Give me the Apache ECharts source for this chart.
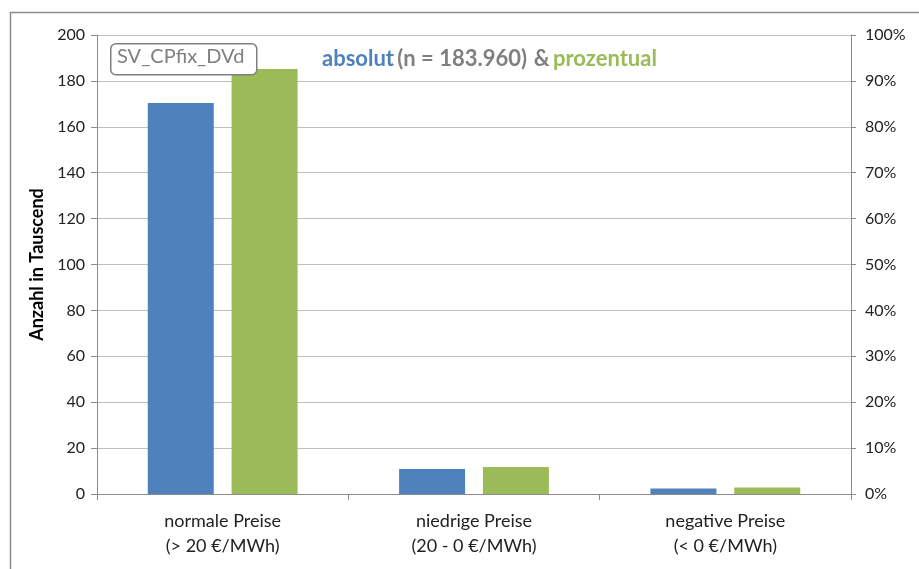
<!DOCTYPE html>
<html><head><meta charset="utf-8">
<script src="https://cdn.jsdelivr.net/npm/echarts@6/dist/echarts.min.js"></script>
<style>html,body{margin:0;padding:0;background:#fff}#c{width:919px;height:569px}</style>
</head><body><div id="c"></div>
<script>
const categories = ['normale Preise\n(> 20 €/MWh)', 'niedrige Preise\n(20 - 0 €/MWh)', 'negative Preise\n(< 0 €/MWh)'];
const absolutValues = [170.4, 10.9, 2.4];
const prozentValues = [92.6, 5.9, 1.4];
const leftTicks = {min: 0, max: 200, interval: 20};
const rightTicks = {min: 0, max: 100, interval: 10};

const FONT = 'Lato, "Open Sans", sans-serif';
const chart = echarts.init(document.getElementById('c'));
chart.setOption({
  animation: false,
  textStyle: {fontFamily: FONT},
  grid: {left: 97, right: 68, top: 35, bottom: 75},
  graphic: [
    {type: 'rect', left: 8, top: 10, shape: {width: 960, height: 620}, style: {fill: 'none', stroke: '#8c8c8c', lineWidth: 1.5}},
    {type: 'rect', left: 110, top: 43, shape: {width: 146, height: 31, r: 5}, style: {fill: '#fff', stroke: '#7f7f7f', lineWidth: 1.5}, z: 10},
    {type: 'text', left: 117, top: 47, style: {text: 'SV_CPfix_DVd', fill: '#7f7f7f', font: '20px ' + FONT}, z: 11},
    {type: 'text', left: 322, top: 48, style: {
      text: '{a|absolut} {g|(n = 183.960)}  {g|&} {p|prozentual}',
      rich: {
        a: {fill: '#4F81BD', font: 'bold 22px ' + FONT},
        g: {fill: '#7f7f7f', font: 'bold 22px ' + FONT},
        p: {fill: '#9BBB59', font: 'bold 22px ' + FONT}
      }}, z: 11}
  ],
  xAxis: {
    type: 'category', data: categories,
    axisLine: {lineStyle: {color: '#8c8c8c'}},
    axisTick: {show: true, length: 6, lineStyle: {color: '#8c8c8c'}},
    axisLabel: {color: '#222', fontSize: 18, lineHeight: 25, margin: 15, fontFamily: FONT}
  },
  yAxis: [
    {type: 'value', min: leftTicks.min, max: leftTicks.max, interval: leftTicks.interval,
     name: 'Anzahl in Tauscend', nameLocation: 'middle', nameGap: 44, nameRotate: 90,
     nameTextStyle: {color: '#000', fontWeight: 'bold', fontSize: 18, fontFamily: FONT},
     axisLine: {show: true, lineStyle: {color: '#8c8c8c'}},
     axisTick: {show: true, length: 6, lineStyle: {color: '#8c8c8c'}},
     axisLabel: {color: '#222', fontSize: 16, margin: 12, fontFamily: FONT},
     splitLine: {lineStyle: {color: '#bfbfbf'}}},
    {type: 'value', min: rightTicks.min, max: rightTicks.max, interval: rightTicks.interval, position: 'right',
     axisLine: {show: true, lineStyle: {color: '#8c8c8c'}},
     axisTick: {show: true, length: 5, lineStyle: {color: '#8c8c8c'}},
     axisLabel: {color: '#222', fontSize: 16, margin: 14, formatter: '{value}%', fontFamily: FONT},
     splitLine: {show: false}}
  ],
  series: [
    {type: 'bar', name: 'absolut', data: absolutValues, yAxisIndex: 0, barWidth: 66, barGap: '27%', itemStyle: {color: '#4F81BD'}},
    {type: 'bar', name: 'prozentual', data: prozentValues, yAxisIndex: 1, barWidth: 66, barGap: '27%', itemStyle: {color: '#9BBB59'}}
  ]
});
</script></body></html>
